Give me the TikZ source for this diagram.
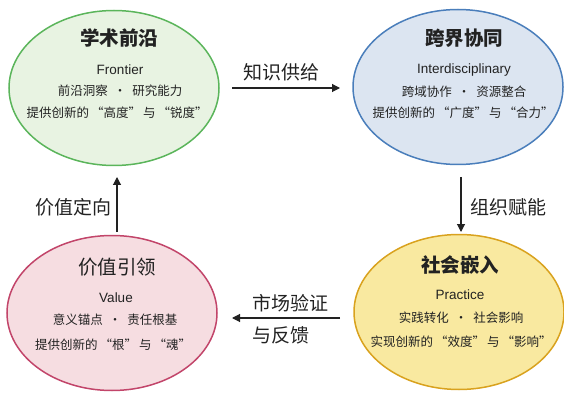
\documentclass[tikz,border=0pt]{standalone}
\usepackage{fontspec}
\setmainfont{Noto Sans CJK SC}
\newfontfamily\lat{Liberation Sans}
\usetikzlibrary{shapes.geometric,arrows.meta}
\definecolor{gfill}{HTML}{E8F3E2}
\definecolor{gdraw}{HTML}{5BB55B}
\definecolor{bfill}{HTML}{DCE5F1}
\definecolor{bdraw}{HTML}{4A7EBB}
\definecolor{yfill}{HTML}{F9E9A0}
\definecolor{ydraw}{HTML}{D9A21E}
\definecolor{rfill}{HTML}{F6DDE1}
\definecolor{rdraw}{HTML}{C2456A}
\definecolor{txt}{HTML}{222222}
\newcommand{\qs}{\hspace{2pt}}
\newcommand{\dotsep}{\hspace{6pt}·\hspace{6pt}}
\tikzset{
  blob/.style={ellipse, line width=1.5pt, minimum width=210pt, minimum height=155pt, inner sep=0pt},
  ttl/.style={font=\fontsize{19.5}{22}\selectfont\bfseries, text=txt, inner sep=0pt},
  eng/.style={font=\lat\fontsize{13.5}{15}\selectfont, text=txt, inner sep=0pt},
  body/.style={font=\fontsize{12.5}{15}\selectfont, text=txt, inner sep=0pt},
  lbl/.style={font=\fontsize{19}{32}\selectfont, text=txt, inner sep=0pt},
  arr/.style={line width=1.1pt, draw=txt, -{Triangle[length=8pt,width=8pt]}}
}
\begin{document}
\begin{tikzpicture}[x=1pt,y=-1pt]
\useasboundingbox (0,0) rectangle (564,395);
% ellipses
\node[blob, fill=gfill, draw=gdraw] (g) at (114,88) {};
\node[blob, fill=bfill, draw=bdraw] (b) at (458,87) {};
\node[blob, fill=yfill, draw=ydraw] (y) at (459,312) {};
\node[blob, fill=rfill, draw=rdraw] (r) at (112,313) {};
% green text
\node[ttl] (gt) at (119,38) {学术前沿};
\node[eng] (ge) at (120,70) {Frontier};
\node[body] (g1) at (120,91) {前沿洞察\dotsep 研究能力};
\node[body] (g2) at (117,113) {提供创新的\qs“高度”\qs 与\qs“锐度”};
% blue text
\node[ttl] (bt) at (464,38) {跨界协同};
\node[eng] (be) at (464,70) {Interdisciplinary};
\node[body] (b1) at (464,92) {跨域协作\dotsep 资源整合};
\node[body] (b2) at (463,113) {提供创新的\qs“广度”\qs 与\qs“合力”};
% yellow text
\node[ttl] (yt) at (460,265) {社会嵌入};
\node[eng] (ye) at (460,295) {Practice};
\node[body] (y1) at (461,318) {实践转化\dotsep 社会影响};
\node[body] (y2) at (461,342) {实现创新的\qs“效度”\qs 与\qs“影响”};
% red text
\node[ttl, font=\fontsize{19.5}{22}\selectfont] (rt) at (117,267) {价值引领};
\node[eng] (re) at (116,298) {Value};
\node[body] (r1) at (115,320) {意义锚点\dotsep 责任根基};
\node[body] (r2) at (113,345) {提供创新的\qs“根”\qs 与\qs“魂”};
% arrows
\coordinate (a1s) at (232,88);
\coordinate (a1e) at (340,88);
\draw[arr] (a1s) -- (a1e);
\node[lbl] (l1) at (281,72) {知识供给};
\coordinate (a2s) at (461,177);
\coordinate (a2e) at (461,232);
\draw[arr] (a2s) -- (a2e);
\node[lbl] (l2) at (508,207) {组织赋能};
\coordinate (a3s) at (340,318);
\coordinate (a3e) at (232,318);
\draw[arr] (a3s) -- (a3e);
\node[lbl, align=left, anchor=west] (l3) at (252,319) {市场验证\\与反馈};
\coordinate (a4s) at (117,232);
\coordinate (a4e) at (117,177);
\draw[arr] (a4s) -- (a4e);
\node[lbl] (l4) at (73,207) {价值定向};
\end{tikzpicture}
\end{document}
